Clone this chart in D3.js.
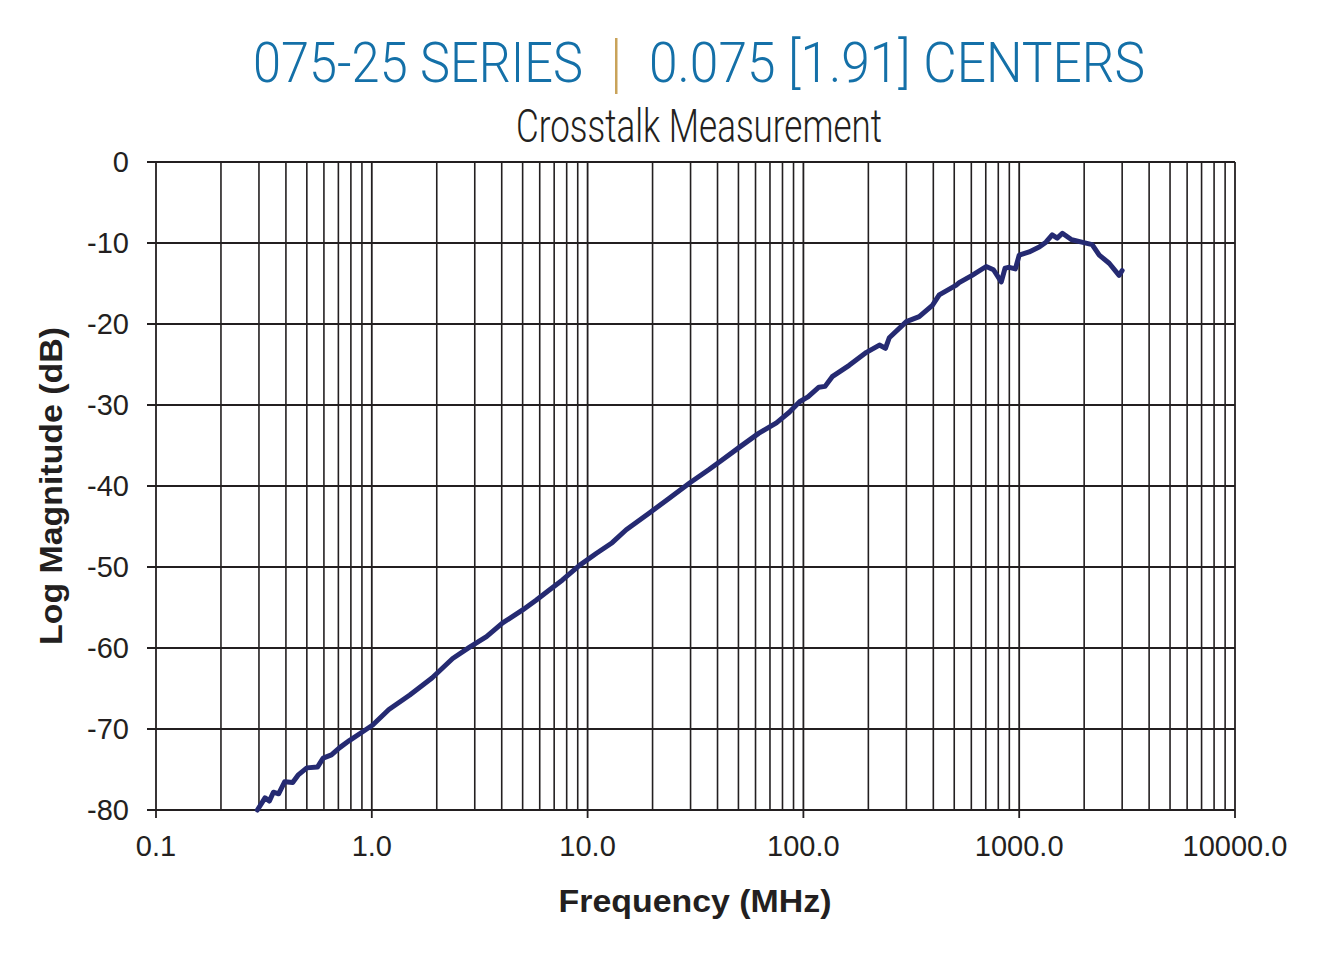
<!DOCTYPE html>
<html>
<head>
<meta charset="utf-8">
<script src="https://cdn.jsdelivr.net/npm/d3@7"></script>
<style>
	body { margin: 0; background: #fff; }
	svg { display: block; }
</style>
</head>
<body>
<svg id="chart" width="1333" height="959"></svg>
<script>
// crosstalk curve (MHz, dB)
var freq = [0.295, 0.32, 0.335, 0.35, 0.37, 0.395, 0.43, 0.455, 0.50, 0.56,
	0.595, 0.65, 0.71, 0.79, 0.90, 1.01, 1.2, 1.5, 1.9, 2.37,
	2.84, 3.4, 4.04, 5.0, 5.77, 6.67, 7.65, 9.17, 11.0, 13.0,
	15.1, 19.4, 23.9, 29.8, 36.4, 42, 50.6, 62, 75, 86,
	96, 105, 118, 126, 136, 163, 196, 225, 240, 250,
	300, 344, 396, 426, 511, 527, 605, 703, 760, 826,
	860, 900, 960, 1000, 1112, 1238, 1330, 1422, 1500, 1585,
	1750, 1950, 2178, 2350, 2612, 2904, 3000];
var magnitude = [-80.0, -78.5, -78.9, -77.8, -78.0, -76.5, -76.6, -75.7, -74.8, -74.7,
	-73.6, -73.2, -72.3, -71.4, -70.4, -69.5, -67.6, -65.8, -63.7, -61.3,
	-59.9, -58.6, -56.9, -55.3, -54.1, -52.8, -51.6, -49.8, -48.3, -47.0,
	-45.4, -43.3, -41.5, -39.6, -38.0, -36.8, -35.2, -33.5, -32.2, -30.9,
	-29.6, -29.0, -27.8, -27.7, -26.5, -25.1, -23.5, -22.6, -23.0, -21.7,
	-19.7, -19.1, -17.7, -16.4, -15.2, -14.9, -14.0, -12.9, -13.3, -14.8,
	-13.1, -13.0, -13.2, -11.5, -11.1, -10.5, -9.9, -9.0, -9.4, -8.8,
	-9.6, -9.9, -10.2, -11.5, -12.5, -14.0, -13.4];

var xTicks = [0.1, 1, 10, 100, 1000, 10000];
var xTickLabels = ["0.1", "1.0", "10.0", "100.0", "1000.0", "10000.0"];
var yTicks = [0, -10, -20, -30, -40, -50, -60, -70, -80];

var plotLeft = 156, plotRight = 1235, plotTop = 162, plotBottom = 810;
var gridColor = "#231f20";

var svg = d3.select("#chart");

var x = d3.scaleLog()
	.domain([0.1, 10000])
	.range([plotLeft, plotRight]);

var y = d3.scaleLinear()
	.domain([-80, 0])
	.range([plotBottom, plotTop]);

// all gridlines: 2..9 in every decade
var minor = [];
xTicks.slice(0, -1).forEach(function(d) {
	for (var k = 2; k <= 9; k++) minor.push(d * k);
});

var grid = svg.append("g").attr("class", "grid");

grid.selectAll("line.minor")
	.data(minor)
	.enter()
	.append("line")
	.attr("class", "minor")
	.attr("x1", function(d) { return x(d); })
	.attr("x2", function(d) { return x(d); })
	.attr("y1", plotTop)
	.attr("y2", plotBottom)
	.attr("stroke", gridColor)
	.attr("stroke-width", 1.6);

grid.selectAll("line.major")
	.data(xTicks)
	.enter()
	.append("line")
	.attr("class", "major")
	.attr("x1", function(d) { return x(d); })
	.attr("x2", function(d) { return x(d); })
	.attr("y1", plotTop)
	.attr("y2", plotBottom + 8)
	.attr("stroke", gridColor)
	.attr("stroke-width", 1.8);

grid.selectAll("line.h")
	.data(yTicks)
	.enter()
	.append("line")
	.attr("class", "h")
	.attr("x1", plotLeft - 9)
	.attr("x2", plotRight)
	.attr("y1", function(d) { return y(d); })
	.attr("y2", function(d) { return y(d); })
	.attr("stroke", gridColor)
	.attr("stroke-width", 1.8);

// tick labels
svg.append("g")
	.selectAll("text")
	.data(xTicks)
	.enter()
	.append("text")
	.attr("x", function(d) { return x(d); })
	.attr("y", 856)
	.attr("text-anchor", "middle")
	.attr("font-family", "Liberation Sans, Arial, sans-serif")
	.attr("font-size", 29)
	.attr("fill", "#231f20")
	.text(function(d, i) { return xTickLabels[i]; });

svg.append("g")
	.selectAll("text")
	.data(yTicks)
	.enter()
	.append("text")
	.attr("x", 129)
	.attr("y", function(d) { return y(d); })
	.attr("dy", "0.36em")
	.attr("text-anchor", "end")
	.attr("font-family", "Liberation Sans, Arial, sans-serif")
	.attr("font-size", 29)
	.attr("fill", "#231f20")
	.text(function(d) { return d; });

// the curve
var pts = freq.map(function(f, i) { return [f, magnitude[i]]; });

var line = d3.line()
	.x(function(d) { return x(d[0]); })
	.y(function(d) { return y(d[1]); });

svg.append("path")
	.datum(pts)
	.attr("d", line)
	.attr("fill", "none")
	.attr("stroke", "#252a72")
	.attr("stroke-width", 5)
	.attr("stroke-linejoin", "round")
	.attr("stroke-linecap", "round");

// titles
var titleFont = "Roboto, sans-serif";

svg.append("text")
	.attr("x", 253)
	.attr("y", 82)
	.attr("font-family", titleFont)
	.attr("font-weight", 300)
	.attr("font-size", 56)
	.attr("fill", "#1470a8")
	.attr("textLength", 330)
	.attr("lengthAdjust", "spacingAndGlyphs")
	.text("075-25 SERIES");

svg.append("rect")
	.attr("x", 615)
	.attr("y", 38)
	.attr("width", 2.5)
	.attr("height", 56)
	.attr("fill", "#c9a35a");

svg.append("text")
	.attr("x", 649)
	.attr("y", 82)
	.attr("font-family", titleFont)
	.attr("font-weight", 300)
	.attr("font-size", 56)
	.attr("fill", "#1470a8")
	.attr("textLength", 496)
	.attr("lengthAdjust", "spacingAndGlyphs")
	.text("0.075 [1.91] CENTERS");

svg.append("text")
	.attr("x", 516)
	.attr("y", 142)
	.attr("font-family", titleFont)
	.attr("font-weight", 300)
	.attr("font-size", 47)
	.attr("fill", "#231f20")
	.attr("textLength", 366)
	.attr("lengthAdjust", "spacingAndGlyphs")
	.text("Crosstalk Measurement");

// axis titles
svg.append("text")
	.attr("x", 695)
	.attr("y", 912)
	.attr("text-anchor", "middle")
	.attr("font-family", "Liberation Sans, Arial, sans-serif")
	.attr("font-weight", "bold")
	.attr("font-size", 32)
	.attr("fill", "#231f20")
	.attr("textLength", 273)
	.attr("lengthAdjust", "spacingAndGlyphs")
	.text("Frequency (MHz)");

svg.append("text")
	.attr("transform", "translate(62,486) rotate(-90)")
	.attr("text-anchor", "middle")
	.attr("font-family", "Liberation Sans, Arial, sans-serif")
	.attr("font-weight", "bold")
	.attr("font-size", 31)
	.attr("fill", "#231f20")
	.attr("textLength", 318)
	.attr("lengthAdjust", "spacingAndGlyphs")
	.text("Log Magnitude (dB)");
</script>
</body>
</html>
